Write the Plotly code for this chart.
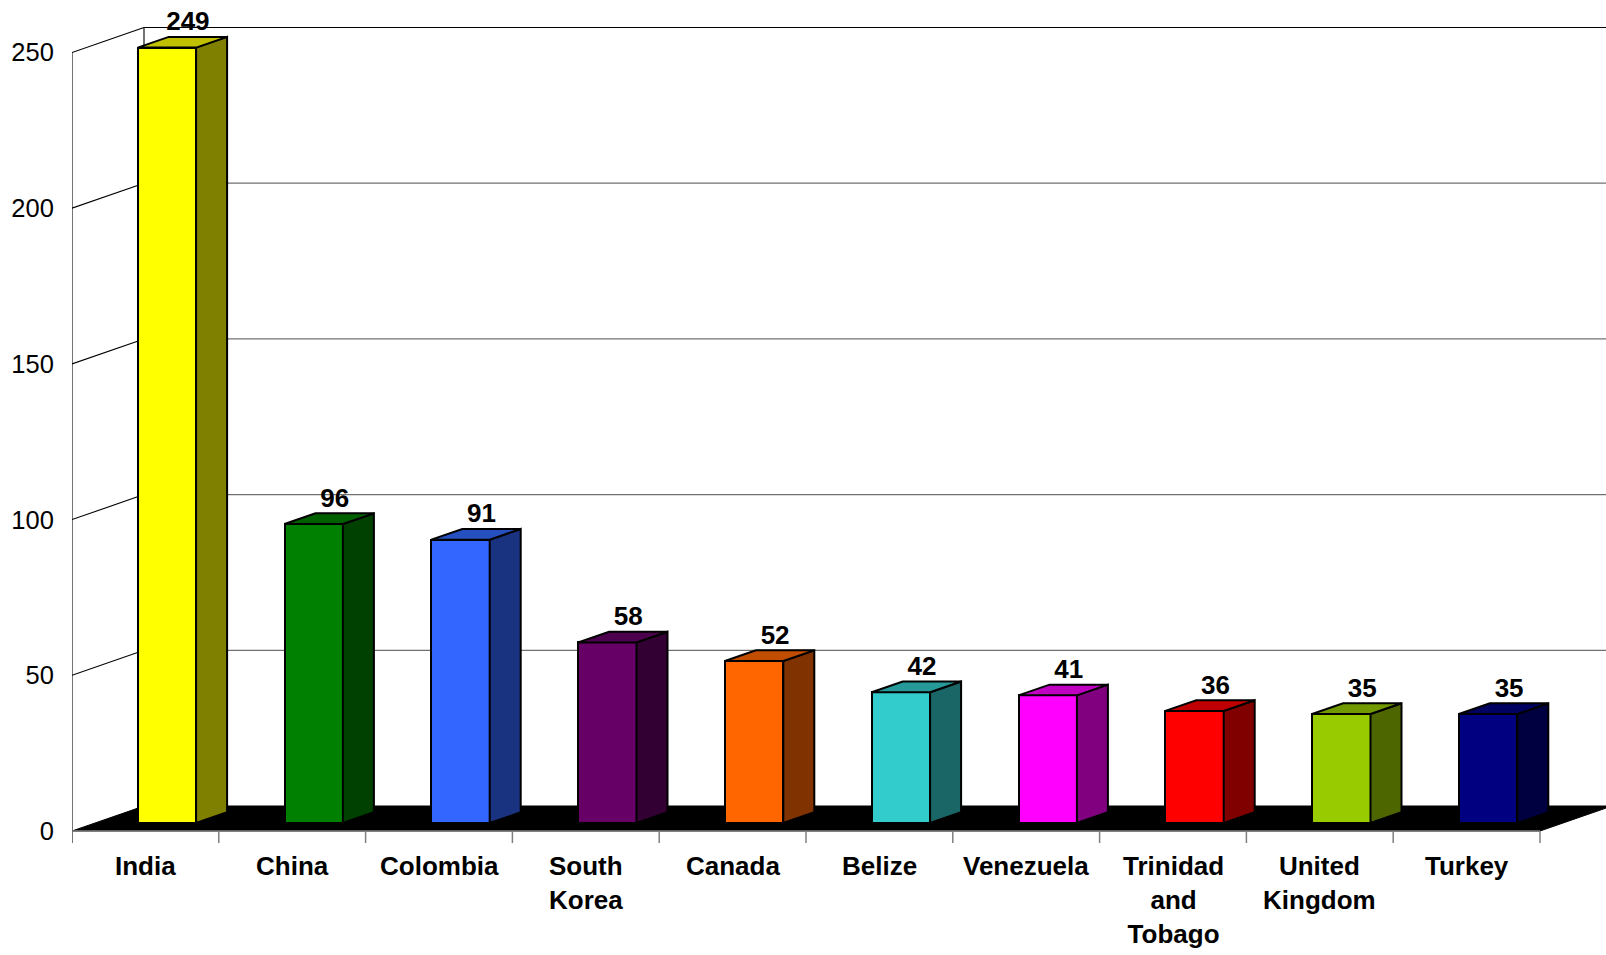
import plotly.graph_objects as go

# ---------------- data ----------------
categories = ["India", "China", "Colombia", "South<br>Korea", "Canada", "Belize",
              "Venezuela", "Trinidad<br>and<br>Tobago", "United<br>Kingdom", "Turkey"]
values = [249, 96, 91, 58, 52, 42, 41, 36, 35, 35]
front_colors = ["#FFFF00", "#008000", "#3366FF", "#660066", "#FF6600",
                "#33CCCC", "#FF00FF", "#FF0000", "#99CC00", "#000080"]
side_colors = ["#808000", "#004000", "#1A3380", "#330033", "#803300",
               "#1A6666", "#800080", "#800000", "#4D6600", "#000040"]
top_colors = ["#C0C000", "#006000", "#2650C0", "#4D004D", "#C04D00",
              "#269999", "#C000C0", "#C00000", "#739900", "#000060"]
y_ticks = [0, 50, 100, 150, 200, 250]

# ---------------- geometry (pixel-based oblique projection) ----------------
W, H = 1606, 955
LEFT = 72            # front axis position (px)
ZERO_Y = 831         # front zero line (px from top)
PX_PER_CAT = 146.8
PX_PER_UNIT = 3.114


def cx(px):
    return px / PX_PER_CAT


def vy(px):
    return px / PX_PER_UNIT


N = len(values)
WALL_DX, WALL_DY = cx(72), vy(25)
SHIFT_X, SHIFT_Y = cx(21.5), vy(8)
BAR_W = cx(58.4)
DEP_X, DEP_Y = cx(31), vy(10.7)
LBL_DX, LBL_DY = cx(21), vy(13)

x_range = [0, cx(W - LEFT)]
y_range = [-vy(H - ZERO_Y), vy(ZERO_Y)]
vmax = y_ticks[-1]

FONT = "Arial, 'Liberation Sans', sans-serif"

shapes = []
# back wall grid lines
for v in y_ticks[1:]:
    shapes.append(dict(type="line", xref="x", yref="y", layer="below",
                       x0=WALL_DX, x1=N + WALL_DX + 1, y0=v + WALL_DY, y1=v + WALL_DY,
                       line=dict(color="#000000" if v == vmax else "#707070", width=1.2)))
# left wall diagonals
for v in y_ticks[1:]:
    shapes.append(dict(type="line", xref="x", yref="y", layer="below",
                       x0=0, x1=WALL_DX, y0=v, y1=v + WALL_DY,
                       line=dict(color="#000000", width=1.1)))
# back wall left edge
shapes.append(dict(type="line", xref="x", yref="y", layer="below",
                   x0=WALL_DX, x1=WALL_DX, y0=WALL_DY, y1=vmax + WALL_DY,
                   line=dict(color="#000000", width=1.1)))
# floor
shapes.append(dict(type="path", xref="x", yref="y", layer="below",
                   path=f"M 0,0 L {N},0 L {N + WALL_DX},{WALL_DY} L {WALL_DX},{WALL_DY} Z",
                   fillcolor="#000000", line=dict(color="#000000", width=1)))
# front axis line
shapes.append(dict(type="line", xref="x", yref="y", layer="below",
                   x0=0, x1=0, y0=-vy(12), y1=vmax,
                   line=dict(color="#000000", width=1.1)))
# front floor edge and category ticks
shapes.append(dict(type="line", xref="x", yref="y", layer="below",
                   x0=0, x1=N, y0=0, y1=0, line=dict(color="#808080", width=1.5)))
for k in range(1, N + 1):
    shapes.append(dict(type="line", xref="x", yref="y", layer="below",
                       x0=k, x1=k, y0=0, y1=-vy(12), line=dict(color="#808080", width=1.5)))

fig = go.Figure()

centers = [i + 0.5 + SHIFT_X for i in range(N)]
fig.add_trace(go.Bar(
    x=centers, y=values, base=[SHIFT_Y] * N, width=BAR_W,
    marker=dict(color=front_colors, line=dict(color="#000000", width=2)),
    hoverinfo="skip", showlegend=False, cliponaxis=False))

for i, v in enumerate(values):
    x0 = centers[i] - BAR_W / 2
    x1 = centers[i] + BAR_W / 2
    b = SHIFT_Y
    t = SHIFT_Y + v
    # side face
    fig.add_trace(go.Scatter(
        x=[x1, x1 + DEP_X, x1 + DEP_X, x1, x1],
        y=[b, b + DEP_Y, t + DEP_Y, t, b],
        mode="lines", fill="toself", fillcolor=side_colors[i],
        line=dict(color="#000000", width=2), hoverinfo="skip", showlegend=False))
    # top face
    fig.add_trace(go.Scatter(
        x=[x0, x0 + DEP_X, x1 + DEP_X, x1, x0],
        y=[t, t + DEP_Y, t + DEP_Y, t, t],
        mode="lines", fill="toself", fillcolor=top_colors[i],
        line=dict(color="#000000", width=2), hoverinfo="skip", showlegend=False))

# value labels
fig.add_trace(go.Scatter(
    x=[c + LBL_DX for c in centers],
    y=[SHIFT_Y + v + DEP_Y + LBL_DY for v in values],
    mode="text", text=[str(v) for v in values], textposition="middle center",
    textfont=dict(family=FONT, size=26, color="#000000", weight="bold"),
    hoverinfo="skip", showlegend=False, cliponaxis=False))

annotations = []
for i, c in enumerate(categories):
    annotations.append(dict(x=i + 0.5, y=-vy(18), xref="x", yref="y", text=c,
                            showarrow=False, xanchor="center", yanchor="top",
                            font=dict(family=FONT, size=26, color="#000000", weight="bold")))

fig.update_layout(
    width=W, height=H,
    margin=dict(l=LEFT, r=0, t=0, b=0, pad=0),
    paper_bgcolor="#FFFFFF", plot_bgcolor="#FFFFFF",
    shapes=shapes, annotations=annotations,
    xaxis=dict(range=x_range, showgrid=False, zeroline=False, showline=False,
               showticklabels=False, ticks="", fixedrange=True, automargin=False),
    yaxis=dict(range=y_range, showgrid=False, zeroline=False, showline=False,
               tickmode="array", tickvals=y_ticks, ticktext=[str(t) for t in y_ticks],
               ticks="outside", ticklen=12, tickcolor="rgba(0,0,0,0)",
               tickfont=dict(family=FONT, size=25.5, color="#000000"),
               fixedrange=True, automargin=False),
    bargap=0, showlegend=False,
)

fig.write_html("out.html", config={"displayModeBar": False},
               post_script="document.body.style.margin='0';document.body.style.overflow='hidden';")
